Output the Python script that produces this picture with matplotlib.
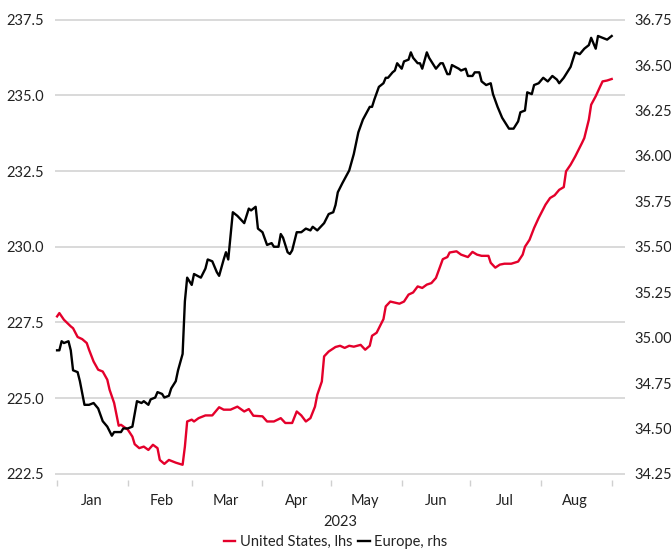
import matplotlib
matplotlib.use("Agg")
import matplotlib.pyplot as plt
import matplotlib.dates as mdates
import numpy as np
import pandas as pd

plt.rcParams['font.family'] = ['Lato', 'DejaVu Sans']

# days after 1 Jan 2023
us_days = [0, 1, 3, 6, 7, 9, 11, 13, 14, 16, 18, 20, 22, 23, 25, 27, 28, 31, 33, 34,
           36, 38, 40, 42, 44, 45, 47, 49, 52, 55, 56, 57, 59, 60, 62, 65, 68, 71, 73, 76,
           79, 82, 84, 86, 90, 92, 95, 98, 100, 103, 105, 107, 109, 111, 113, 114, 116, 117, 119, 122,
           124, 126, 128, 130, 133, 135, 137, 138, 140, 143, 144, 146, 150, 152, 154, 156, 158, 160, 162, 164,
           166, 169, 171, 172, 175, 177, 180, 182, 184, 186, 189, 190, 192, 194, 196, 199, 202, 204, 205, 207,
           209, 211, 214, 216, 218, 220, 222, 223, 225, 227, 230, 231, 233, 234, 236, 238, 239, 241, 243]
us_vals = [227.70, 227.81, 227.59, 227.37, 227.31, 227.02, 226.95, 226.82, 226.60, 226.21,
           225.94, 225.88, 225.61, 225.28, 224.84, 224.09, 224.12, 223.96, 223.73, 223.48,
           223.35, 223.40, 223.29, 223.46, 223.35, 222.96, 222.83, 222.96, 222.87, 222.80,
           223.40, 224.23, 224.29, 224.23, 224.34, 224.43, 224.43, 224.70, 224.62, 224.62,
           224.72, 224.56, 224.64, 224.42, 224.40, 224.23, 224.23, 224.34, 224.18, 224.18,
           224.56, 224.43, 224.23, 224.34, 224.72, 225.11, 225.55, 226.38, 226.54, 226.69,
           226.73, 226.66, 226.73, 226.70, 226.76, 226.60, 226.73, 227.06, 227.16, 227.61,
           228.03, 228.19, 228.12, 228.19, 228.42, 228.49, 228.69, 228.64, 228.75, 228.80,
           228.97, 229.59, 229.66, 229.81, 229.85, 229.74, 229.66, 229.83, 229.74, 229.70,
           229.70, 229.47, 229.31, 229.41, 229.44, 229.44, 229.51, 229.74, 230.00, 230.23,
           230.62, 230.95, 231.39, 231.61, 231.70, 231.88, 231.97, 232.49, 232.71, 232.98,
           233.43, 233.59, 234.20, 234.69, 234.97, 235.30, 235.46, 235.49, 235.54]

eu_days = [0, 1, 2, 3, 5, 6, 7, 9, 10, 12, 14, 16, 18, 20, 22, 24, 25, 28, 29, 31,
           33, 35, 37, 38, 40, 41, 43, 44, 46, 47, 49, 50, 52, 53, 55, 56, 57, 59, 60, 63,
           65, 66, 68, 70, 71, 73, 74, 75, 77, 79, 82, 84, 85, 87, 88, 90, 92, 94, 95, 97,
           98, 99, 101, 102, 103, 105, 107, 109, 111, 112, 114, 117, 119, 121, 122, 123, 125, 128, 130, 132,
           134, 137, 138, 139, 141, 143, 144, 145, 147, 148, 149, 151, 152, 154, 155, 156, 158, 159, 160, 162,
           163, 165, 166, 168, 169, 171, 172, 173, 176, 177, 179, 180, 182, 183, 185, 186, 188, 190, 191, 193,
           195, 197, 198, 200, 202, 203, 205, 206, 208, 209, 211, 213, 215, 217, 219, 220, 222, 225, 227, 229,
           231, 233, 234, 236, 237, 239, 241, 243]
eu_vals = [34.93, 34.93, 34.98, 34.97, 34.98, 34.93, 34.82, 34.81, 34.76, 34.63,
           34.63, 34.64, 34.61, 34.54, 34.51, 34.46, 34.48, 34.48, 34.50, 34.50,
           34.51, 34.65, 34.64, 34.65, 34.63, 34.66, 34.67, 34.70, 34.69, 34.67,
           34.68, 34.72, 34.76, 34.82, 34.91, 35.20, 35.33, 35.29, 35.35, 35.33,
           35.38, 35.43, 35.42, 35.36, 35.34, 35.43, 35.47, 35.43, 35.69, 35.67,
           35.63, 35.71, 35.70, 35.72, 35.60, 35.58, 35.51, 35.52, 35.50, 35.50,
           35.57, 35.55, 35.47, 35.46, 35.48, 35.58, 35.58, 35.60, 35.59, 35.61,
           35.59, 35.63, 35.68, 35.69, 35.73, 35.80, 35.85, 35.92, 36.01, 36.13,
           36.20, 36.27, 36.27, 36.31, 36.38, 36.40, 36.43, 36.43, 36.46, 36.47,
           36.51, 36.48, 36.52, 36.53, 36.57, 36.54, 36.51, 36.51, 36.48, 36.57,
           36.54, 36.50, 36.48, 36.51, 36.51, 36.45, 36.45, 36.50, 36.48, 36.47,
           36.48, 36.44, 36.44, 36.46, 36.46, 36.41, 36.39, 36.40, 36.34, 36.27,
           36.21, 36.17, 36.15, 36.15, 36.19, 36.24, 36.25, 36.35, 36.34, 36.39,
           36.40, 36.43, 36.41, 36.44, 36.42, 36.40, 36.43, 36.49, 36.57, 36.56,
           36.59, 36.61, 36.65, 36.59, 36.66, 36.65, 36.64, 36.66]

left_ticks = [222.5, 225.0, 227.5, 230.0, 232.5, 235.0, 237.5]
right_ticks = [34.25, 34.50, 34.75, 35.00, 35.25, 35.50, 35.75, 36.00, 36.25, 36.50, 36.75]
months = ['Jan', 'Feb', 'Mar', 'Apr', 'May', 'Jun', 'Jul', 'Aug']

start = pd.Timestamp('2023-01-01')
us_dates = start + pd.to_timedelta(us_days, unit='D')
eu_dates = start + pd.to_timedelta(eu_days, unit='D')

RED = '#e4002b'
GRID = '#d0d0d0'

fig = plt.figure(figsize=(6.71, 5.51), dpi=100)
ax = fig.add_axes([0.082, 0.129, 0.849, 0.837])
ax2 = ax.twinx()

ax.plot(us_dates, us_vals, color=RED, lw=1.7, label='United States, lhs', zorder=3)
ax2.plot(eu_dates, eu_vals, color='black', lw=1.7, label='Europe, rhs', zorder=3)

# left / right scales line up: 15 units on the left = 2.5 on the right
lo, hi = 222.30, 237.53
ax.set_ylim(lo, hi)
ax2.set_ylim(34.25 + (lo - 222.5) / 6, 34.25 + (hi - 222.5) / 6)
ax.set_yticks(left_ticks)
ax.set_yticklabels([f'{v:.1f}' for v in left_ticks])
ax2.set_yticks(right_ticks)
ax2.set_yticklabels([f'{v:.2f}' for v in right_ticks])
ax.grid(axis='y', color=GRID, lw=1.1)
ax.set_axisbelow(True)

ax.set_xlim(start - pd.Timedelta(days=0.9), start + pd.Timedelta(days=248.7))
ax.xaxis.set_major_locator(mdates.MonthLocator())
ax.xaxis.set_major_formatter(plt.NullFormatter())
ax.xaxis.set_minor_locator(mdates.MonthLocator(bymonthday=16))
ax.xaxis.set_minor_formatter(plt.FixedFormatter(months))
ax.tick_params(axis='x', which='major', length=4, color=GRID, width=1)
ax.tick_params(axis='x', which='minor', length=0, pad=10, labelsize=10.5, labelcolor='#222222')
ax.set_xlabel('2023', fontsize=10.5, color='#222222', labelpad=5)

ax.tick_params(axis='y', length=0, pad=8, labelsize=10.5, labelcolor='#222222')
ax2.tick_params(axis='y', length=0, pad=7, labelsize=10.5, labelcolor='#222222')

for a in (ax, ax2):
    for s in a.spines.values():
        s.set_visible(False)

h1, l1 = ax.get_legend_handles_labels()
h2, l2 = ax2.get_legend_handles_labels()
fig.legend(h1 + h2, l1 + l2, loc='lower center', bbox_to_anchor=(0.5, 0.004), ncol=2,
           frameon=False, fontsize=10.5, handlelength=0.8, handletextpad=0.3,
           columnspacing=0.4, labelcolor='#222222', borderaxespad=0, borderpad=0)

fig.savefig('out.png', dpi=100)
